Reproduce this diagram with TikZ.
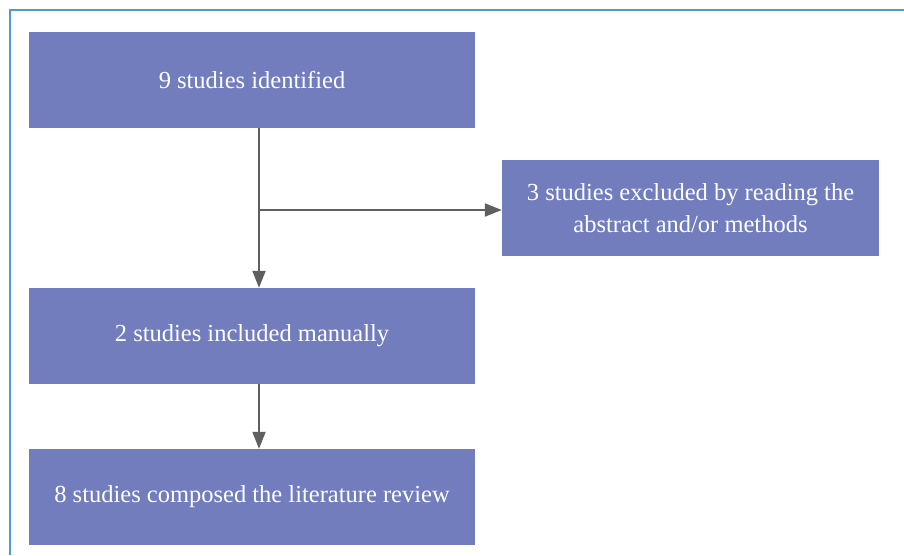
\documentclass[tikz,border=0pt]{standalone}
\usepackage{fontspec}
\setmainfont{Liberation Serif}
\usetikzlibrary{arrows.meta}
\definecolor{boxfill}{HTML}{717DBD}
\definecolor{arrowgray}{HTML}{5F5F5F}
\definecolor{frameblue}{HTML}{4A9FD0}
\tikzset{
  flowbox/.style={fill=boxfill, draw=none, text=white, minimum width=446pt, minimum height=96pt, inner sep=0pt, align=center, font=\fontsize{24.5}{32}\selectfont},
  conn/.style={draw=arrowgray, line width=2pt, -{Triangle[length=17pt,width=13pt]}}
}
\begin{document}
\begin{tikzpicture}[x=1pt,y=1pt]
\useasboundingbox (0,0) rectangle (904,555);
\fill[white] (0,0) rectangle (904,555);
\coordinate (fa) at (10,0);
\coordinate (fb) at (10,545);
\coordinate (fc) at (904,545);
\draw[frameblue, line width=1.5pt] (fa) -- (fb) -- (fc);
\node[flowbox] (b1) at (252,475) {9 studies identified};
\node[flowbox, minimum width=377pt] (b2) at (690.5,347) {3 studies excluded by reading the\\abstract and/or methods};
\node[flowbox] (b3) at (252,219) {2 studies included manually};
\node[flowbox] (b4) at (252,58) {8 studies composed the literature review};
\coordinate (j) at (259,345);
\draw[conn] (b1.south -| j) -- (b3.north -| j);
\draw[conn] (j) -- (b2.west |- j);
\draw[conn] (b3.south -| j) -- (b4.north -| j);
\end{tikzpicture}
\end{document}
